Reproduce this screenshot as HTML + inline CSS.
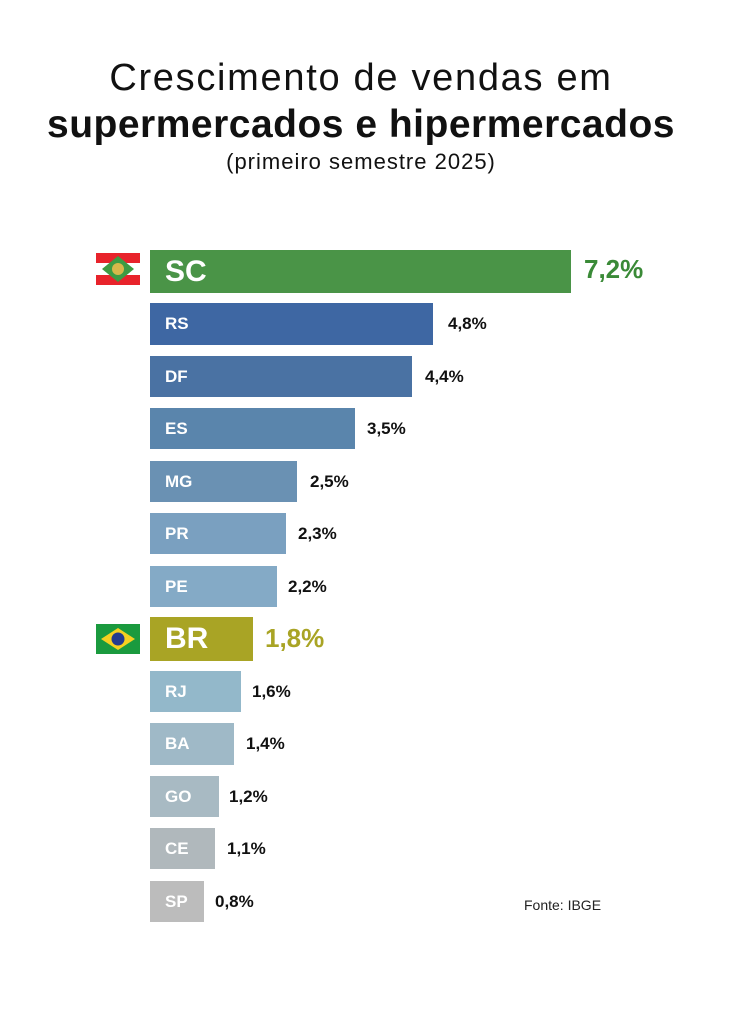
<!DOCTYPE html>
<html><head><meta charset="utf-8"><style>
body{margin:0;width:746px;height:1024px;background:#fff;font-family:"Liberation Sans",sans-serif;position:relative;overflow:hidden}
.t{position:absolute;left:-12px;width:746px;text-align:center;color:#111;white-space:nowrap}
.b{position:absolute;left:150px;color:#fff;font-weight:bold;font-size:17px;box-sizing:border-box;padding-left:15px;display:flex;align-items:center}
.v{position:absolute;font-weight:bold;font-size:17px;color:#111;display:flex;align-items:center}
</style></head><body>
<div class="t" style="top:57px;font-size:38px;letter-spacing:1.7px">Crescimento de vendas em</div>
<div class="t" style="top:103px;font-size:39px;font-weight:bold;letter-spacing:0.5px">supermercados e hipermercados</div>
<div class="t" style="top:149px;font-size:22px;letter-spacing:1px">(primeiro semestre 2025)</div>

<svg style="position:absolute;left:96px;top:253px" width="44" height="32"><rect width="44" height="32" fill="#e8232b"/><rect y="10" width="44" height="12" fill="#fff"/><polygon points="22,3 38,16 22,29 6,16" fill="#3e9b43"/><circle cx="22" cy="16" r="6" fill="#d8b84a"/></svg>
<svg style="position:absolute;left:96px;top:624px" width="44" height="30"><rect width="44" height="30" fill="#1a9a3e"/><polygon points="22,4 39,15 22,26 5,15" fill="#f5d020"/><circle cx="22" cy="15" r="6.5" fill="#233b8f"/></svg>

<div class="b" style="top:250px;height:43px;width:421px;background:#4a9447;font-size:30px">SC</div>
<div class="v" style="top:250px;height:38px;left:584px;font-size:26px;color:#3a8a37">7,2%</div>
<div class="b" style="top:303px;height:42px;width:283px;background:#3e67a3">RS</div><div class="v" style="top:303px;height:42px;left:448px">4,8%</div>
<div class="b" style="top:356px;height:41px;width:262px;background:#4a72a3">DF</div><div class="v" style="top:356px;height:41px;left:425px">4,4%</div>
<div class="b" style="top:408px;height:41px;width:205px;background:#5a85ac">ES</div><div class="v" style="top:408px;height:41px;left:367px">3,5%</div>
<div class="b" style="top:461px;height:41px;width:147px;background:#6a91b3">MG</div><div class="v" style="top:461px;height:41px;left:310px">2,5%</div>
<div class="b" style="top:513px;height:41px;width:136px;background:#7aa0c0">PR</div><div class="v" style="top:513px;height:41px;left:298px">2,3%</div>
<div class="b" style="top:566px;height:41px;width:127px;background:#84aac6">PE</div><div class="v" style="top:566px;height:41px;left:288px">2,2%</div>
<div class="b" style="top:617px;height:44px;width:103px;background:#a9a425;font-size:30px">BR</div><div class="v" style="top:617px;height:42px;left:265px;font-size:26px;color:#a9a425">1,8%</div>
<div class="b" style="top:671px;height:41px;width:91px;background:#93b8ca">RJ</div><div class="v" style="top:671px;height:41px;left:252px">1,6%</div>
<div class="b" style="top:723px;height:42px;width:84px;background:#9fb9c7">BA</div><div class="v" style="top:723px;height:42px;left:246px">1,4%</div>
<div class="b" style="top:776px;height:41px;width:69px;background:#a8bac3">GO</div><div class="v" style="top:776px;height:41px;left:229px">1,2%</div>
<div class="b" style="top:828px;height:41px;width:65px;background:#b0b8bc">CE</div><div class="v" style="top:828px;height:41px;left:227px">1,1%</div>
<div class="b" style="top:881px;height:41px;width:54px;background:#bcbcbc">SP</div><div class="v" style="top:881px;height:41px;left:215px">0,8%</div>
<div style="position:absolute;left:524px;top:897px;font-size:14px;color:#222">Fonte: IBGE</div>
</body></html>
